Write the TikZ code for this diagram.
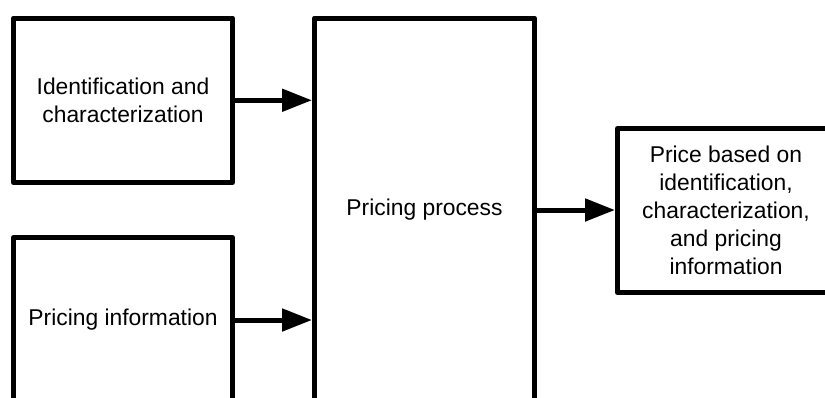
\documentclass[tikz,border=0pt]{standalone}
\usepackage{fontspec}
\setmainfont{Liberation Sans}
\usetikzlibrary{arrows.meta}

\begin{document}
\begin{tikzpicture}[
  x=0.02cm, y=-0.02cm,
  box/.style={draw, line width=0.1cm, line join=round, align=center,
              inner sep=0pt, font=\fontsize{13}{15.9}\selectfont},
  arr/.style={-{Triangle[length=0.6cm, width=0.44cm]}, line width=0.1cm},
]
\useasboundingbox (0,0) rectangle (825,397);
\clip (0,0) rectangle (825,397);
\node[box, minimum width=219*0.02cm, minimum height=164.5*0.02cm] (ident) at (123,100.25)
      {Identification and\\characterization};
\node[box, minimum width=219*0.02cm, minimum height=165*0.02cm] (info) at (123,320)
      {Pricing information};
\node[box, minimum width=220*0.02cm, minimum height=384*0.02cm] (proc) at (424.5,210)
      {Pricing process};
\node[box, minimum width=217*0.02cm, minimum height=164*0.02cm] (price) at (726,210.5)
      {Price based on\\identification,\\characterization,\\and pricing\\information};
\draw[arr] (ident.east) -- (ident.east -| proc.west);
\draw[arr] (info.east) -- (info.east -| proc.west);
\draw[arr] (proc.east) -- (proc.east -| price.west);
\end{tikzpicture}
\end{document}
